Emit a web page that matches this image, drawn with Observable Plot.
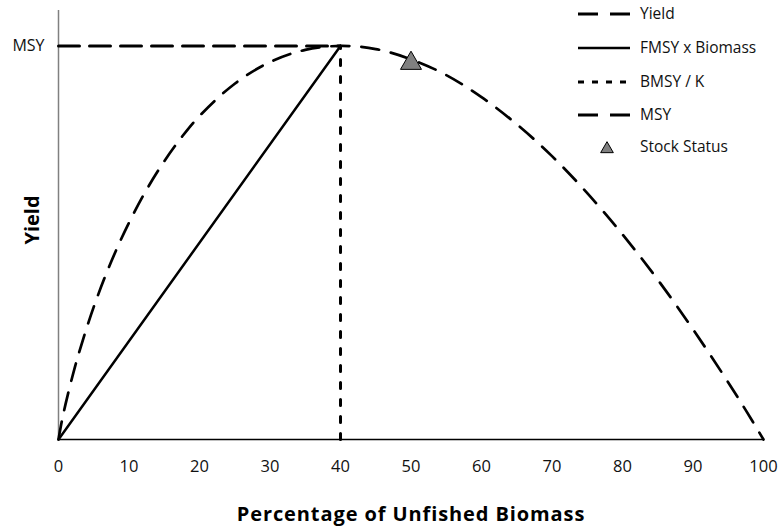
<!DOCTYPE html>
<html><head><meta charset="utf-8">
<script src="https://cdn.jsdelivr.net/npm/d3@7"></script>
<script src="https://cdn.jsdelivr.net/npm/@observablehq/plot@0.6"></script>
<style>
body{margin:0;background:#fff;}
#wrap{position:relative;width:782px;height:531px;font-family:"Open Sans",sans-serif;}
#legend{position:absolute;left:0;top:0;pointer-events:none;}
</style></head><body><div id="wrap"></div>
<script>
// Percentage of unfished biomass (x) and yield relative to MSY (y)
const biomass = [0, 0.5, 1, 2, 3, 5, 7.5, 10, 12.5, 15, 17.5, 20, 25, 30, 35, 40, 45, 50, 55, 60, 65, 70, 75, 80, 85, 90, 95, 97.5, 100];
const yieldValues = [0, 0.049, 0.09, 0.162, 0.226, 0.337, 0.453, 0.551, 0.635, 0.707, 0.769, 0.822, 0.904, 0.959, 0.99, 1.0, 0.992, 0.966, 0.926, 0.87, 0.801, 0.72, 0.626, 0.521, 0.406, 0.28, 0.145, 0.074, 0];
const msy = 1;
const bmsyPct = 40;
const stockBiomass = [50];
const stockYield = [0.966];
const xTicks = [0, 10, 20, 30, 40, 50, 60, 70, 80, 90, 100];
const yTicks = [1];
const yTickLabels = ["MSY"];
const legendLabels = ["Yield", "FMSY x Biomass", "BMSY / K", "MSY", "Stock Status"];
const xTitle = "Percentage of Unfished Biomass";
const yTitle = "Yield";

const yieldData = biomass.map((b, i) => ({b, y: yieldValues[i]}));
const fmsyData = [{b: 0, y: 0}, {b: bmsyPct, y: msy}];
const bmsyData = [{b: bmsyPct, y: 0}, {b: bmsyPct, y: msy}];
const msyData = [{b: 0, y: msy}, {b: bmsyPct, y: msy}];
const stockData = stockBiomass.map((b, i) => ({b, y: stockYield[i]}));

const chart = Plot.plot({
  width: 782, height: 531,
  marginLeft: 58, marginRight: 19, marginTop: 10, marginBottom: 92,
  style: {fontFamily: "Open Sans, sans-serif", fontSize: "16px", color: "#000", background: "#fff"},
  x: {domain: [0, 100]},
  y: {domain: [0, 1.09]},
  marks: [
    Plot.axisX({ticks: xTicks, tickSize: 0, tickPadding: 21, label: null, fontSize: 16.5, fill: "#111"}),
    Plot.axisY({ticks: yTicks, tickFormat: d => yTickLabels[yTicks.indexOf(d)], tickSize: 0, tickPadding: 14, label: null, fontSize: 16, fill: "#111"}),
    Plot.ruleX([0], {stroke: "#808080", strokeWidth: 1.5}),
    Plot.ruleY([0], {stroke: "#000", strokeWidth: 1.3}),
    Plot.line(msyData, {x: "b", y: "y", stroke: "#000", strokeWidth: 3, strokeDasharray: "21,10"}),
    Plot.line(bmsyData, {x: "b", y: "y", stroke: "#000", strokeWidth: 3, strokeDasharray: "6,11"}),
    Plot.line(fmsyData, {x: "b", y: "y", stroke: "#000", strokeWidth: 2.5}),
    Plot.line(yieldData, {x: "b", y: "y", stroke: "#000", strokeWidth: 2.7, strokeDasharray: "18,12", curve: "catmull-rom"}),
    Plot.dot(stockData, {x: "b", y: "y", symbol: "triangle", r: 7.8, fill: "#808080", stroke: "#000", strokeWidth: 1, dy: 4}),
    Plot.text([yTitle], {frameAnchor: "left", textAnchor: "middle", lineAnchor: "middle", rotate: -90, dx: -26, dy: -5, fontWeight: "bold", fontSize: 20, fill: "#000"}),
    Plot.text([xTitle], {frameAnchor: "bottom", textAnchor: "middle", lineAnchor: "middle", dy: 75, fontWeight: "bold", fontSize: 20, fill: "#000"})
  ]
});
const wrap = document.getElementById("wrap");
wrap.appendChild(chart);
chart.querySelectorAll("text").forEach(t => {
  if (t.textContent === xTitle) t.setAttribute("letter-spacing", "0.9");
});

// Legend overlay
const ns = "http://www.w3.org/2000/svg";
const leg = document.createElementNS(ns, "svg");
leg.setAttribute("id", "legend");
leg.setAttribute("width", 782);
leg.setAttribute("height", 531);
const rowY = [14, 48, 82, 115, 147];
const styles = [
  {dash: "20,12", w: 3},
  {dash: null, w: 2.5},
  {dash: "6,8", w: 3},
  {dash: "20,12", w: 3},
  null
];
legendLabels.forEach((lab, i) => {
  const y = rowY[i];
  const s = styles[i];
  if (s) {
    const l = document.createElementNS(ns, "line");
    l.setAttribute("x1", 578); l.setAttribute("x2", 630);
    l.setAttribute("y1", y); l.setAttribute("y2", y);
    l.setAttribute("stroke", "#000");
    l.setAttribute("stroke-width", s.w);
    if (s.dash) l.setAttribute("stroke-dasharray", s.dash);
    leg.appendChild(l);
  } else {
    const p = document.createElementNS(ns, "path");
    p.setAttribute("d", d3.symbol(d3.symbolTriangle, 70)());
    p.setAttribute("transform", `translate(607,${y + 2})`);
    p.setAttribute("fill", "#808080");
    p.setAttribute("stroke", "#000");
    p.setAttribute("stroke-width", 1);
    leg.appendChild(p);
  }
  const t = document.createElementNS(ns, "text");
  t.setAttribute("x", 640);
  t.setAttribute("y", y);
  t.setAttribute("dy", "0.35em");
  t.setAttribute("font-family", "Open Sans, sans-serif");
  t.setAttribute("font-size", 15.5);
  t.setAttribute("fill", "#111");
  t.textContent = lab;
  leg.appendChild(t);
});
wrap.appendChild(leg);
</script></body></html>
